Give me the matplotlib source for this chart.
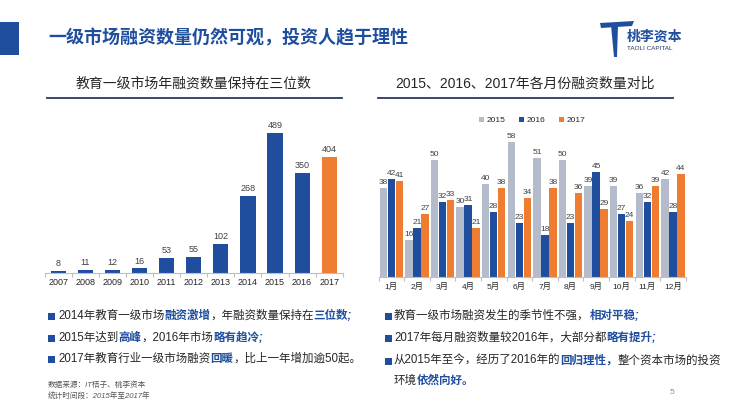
import matplotlib

matplotlib.use("Agg")
from matplotlib import pyplot as plt
from matplotlib.patches import Polygon, Rectangle
import numpy as np

plt.rcParams["font.family"] = ["Liberation Sans", "Noto Sans CJK SC", "DejaVu Sans"]

BLUE = "#1f4e9f"
ORANGE = "#ee7d31"
GRAY = "#b4bccc"
TEXT = "#262626"
LABEL = "#404040"
NAVY = "#243a5e"

# left chart: yearly deal counts
years = ["2007", "2008", "2009", "2010", "2011", "2012", "2013", "2014", "2015", "2016", "2017"]
year_counts = [8, 11, 12, 16, 53, 55, 102, 268, 489, 350, 404]

# right chart: monthly deal counts
months = ["1月", "2月", "3月", "4月", "5月", "6月", "7月", "8月", "9月", "10月", "11月", "12月"]
series_names = ["2015", "2016", "2017"]
counts_2015 = [38, 16, 50, 30, 40, 58, 51, 50, 39, 39, 36, 42]
counts_2016 = [42, 21, 32, 31, 28, 23, 18, 23, 45, 27, 32, 28]
counts_2017 = [41, 27, 33, 21, 38, 34, 38, 36, 29, 24, 39, 44]

slide_title = "一级市场融资数量仍然可观，投资人趋于理性"
left_title = "教育一级市场年融资数量保持在三位数"
right_title = "2015、2016、2017年各月份融资数量对比"

# (text, emphasised)
left_notes = [
    [("2014年教育一级市场", False), ("融资激增", True), ("，年融资数量保持在", False), ("三位数;", True)],
    [("2015年达到", False), ("高峰", True), ("，2016年市场", False), ("略有趋冷;", True)],
    [("2017年教育行业一级市场融资", False), ("回暖", True), ("，比上一年增加逾50起。", False)],
]
right_notes = [
    [("教育一级市场融资发生的季节性不强，", False), ("相对平稳;", True)],
    [("2017年每月融资数量较2016年，大部分都", False), ("略有提升;", True)],
    [("从2015年至今，经历了2016年的", False), ("回归理性，", True), ("整个资本市场的投资", False)],
    [("环境", False), ("依然向好。", True)],
]
sources = ["数据来源：IT桔子、桃李资本", "统计时间段：2015年至2017年"]


def draw_segments(ax, x, y, segments, size):
    prev = None
    for text, emph in segments:
        kw = dict(
            fontsize=size,
            color=BLUE if emph else TEXT,
            fontweight="bold" if emph else "normal",
            fontstyle="italic" if emph else "normal",
        )
        if prev is None:
            prev = ax.text(x, y, text, ha="left", va="center", **kw)
        else:
            prev = ax.annotate(text, xy=(1, 0), xycoords=prev, ha="left", va="bottom", **kw)


def style_category_axis(ax, n, labels, fontsize, pad):
    ax.set_xlim(-0.5, n - 0.5)
    ax.set_xticks(np.arange(n))
    ax.set_xticklabels(labels, fontsize=fontsize, color=TEXT)
    ax.set_xticks(np.arange(n + 1) - 0.5, minor=True)
    ax.tick_params(axis="x", which="major", length=0, pad=pad)
    ax.tick_params(axis="x", which="minor", length=3, color="#bfbfbf", width=0.8)
    ax.set_yticks([])
    for side in ("top", "right", "left"):
        ax.spines[side].set_visible(False)
    ax.spines["bottom"].set_color("#bfbfbf")
    ax.spines["bottom"].set_linewidth(0.8)
    ax.patch.set_alpha(0)


def draw_decor(ov):
    ov.add_patch(Rectangle((0, 22), 19, 33, color=BLUE, lw=0))
    ov.text(48, 38, slide_title, fontsize=13, fontweight="bold", color=BLUE, va="center", ha="left")

    # logo
    ov.add_patch(Polygon([(600, 23), (634, 21), (632, 26), (601, 28)], color=BLUE, lw=0))
    ov.add_patch(Polygon([(611, 25), (618, 25), (617, 57), (614, 57)], color=BLUE, lw=0))
    ov.text(627, 37, "桃李资本", fontsize=10, fontweight="bold", color=BLUE, va="center", ha="left")
    ov.text(627, 49, "TAOLI CAPITAL", fontsize=4.6, color=NAVY, va="center", ha="left")

    # panel titles and rules
    ov.text(194, 84, left_title, fontsize=10, color=TEXT, va="center", ha="center")
    ov.plot([47, 342], [98, 98], color=NAVY, lw=1.3)
    ov.text(525, 84, right_title, fontsize=10, color=TEXT, va="center", ha="center")
    ov.plot([378, 673], [98, 98], color=NAVY, lw=1.3)

    for y, segs in zip([316, 338, 359], left_notes):
        ov.add_patch(Rectangle((48, y - 3.5), 7, 7, color=BLUE, lw=0))
        draw_segments(ov, 58, y, segs, 8.3)
    for i, (y, segs) in enumerate(zip([316, 338, 361, 381], right_notes)):
        if i < 3:
            ov.add_patch(Rectangle((385, y - 3.5), 7, 7, color=BLUE, lw=0))
        draw_segments(ov, 394, y, segs, 8.3)

    for y, line in zip([385, 397], sources):
        ov.text(48, y, line, fontsize=5.5, color="#555555", fontstyle="italic", va="center", ha="left")
    ov.text(672, 392, "5", fontsize=6, color="#8c8c8c", va="center", ha="center")


def plot_years(fig):
    ax = fig.add_axes([44.75 / 730, (411 - 273) / 411, 298 / 730, 163 / 411])
    x = np.arange(len(years))
    colors = [BLUE] * (len(years) - 1) + [ORANGE]
    bars = ax.bar(x, year_counts, width=0.56, color=colors)
    ax.bar_label(bars, padding=2, fontsize=6.5, color=LABEL)
    ax.set_ylim(0, 569)
    style_category_axis(ax, len(years), years, 6.5, 3.5)


def plot_months(fig):
    ax = fig.add_axes([378.5 / 730, (411 - 277) / 411, 307.2 / 730, 147 / 411])
    x = np.arange(len(months))
    width = 0.29
    offset = 0.31
    for k, (name, vals, color) in enumerate(
        zip(series_names, [counts_2015, counts_2016, counts_2017], [GRAY, BLUE, ORANGE])
    ):
        bars = ax.bar(x + (k - 1) * offset, vals, width=width, color=color, label=name)
        ax.bar_label(bars, padding=1.5, fontsize=6, color=LABEL)
    ax.set_ylim(0, 63)
    style_category_axis(ax, len(months), months, 6, 4)
    ax.legend(
        loc="lower center",
        bbox_to_anchor=(0.5, 1.0),
        ncol=3,
        frameon=False,
        fontsize=6,
        handlelength=0.6,
        handleheight=0.6,
        handletextpad=0.3,
        columnspacing=1.6,
        borderaxespad=0.3,
        labelcolor=TEXT,
    )


def main() -> None:
    fig = plt.figure(figsize=(7.3, 4.11), dpi=100)
    ov = fig.add_axes([0, 0, 1, 1])
    ov.set_xlim(0, 730)
    ov.set_ylim(411, 0)
    ov.axis("off")

    draw_decor(ov)
    plot_years(fig)
    plot_months(fig)

    fig.savefig("out.png", dpi=100)
    plt.close(fig)


if __name__ == "__main__":
    main()
